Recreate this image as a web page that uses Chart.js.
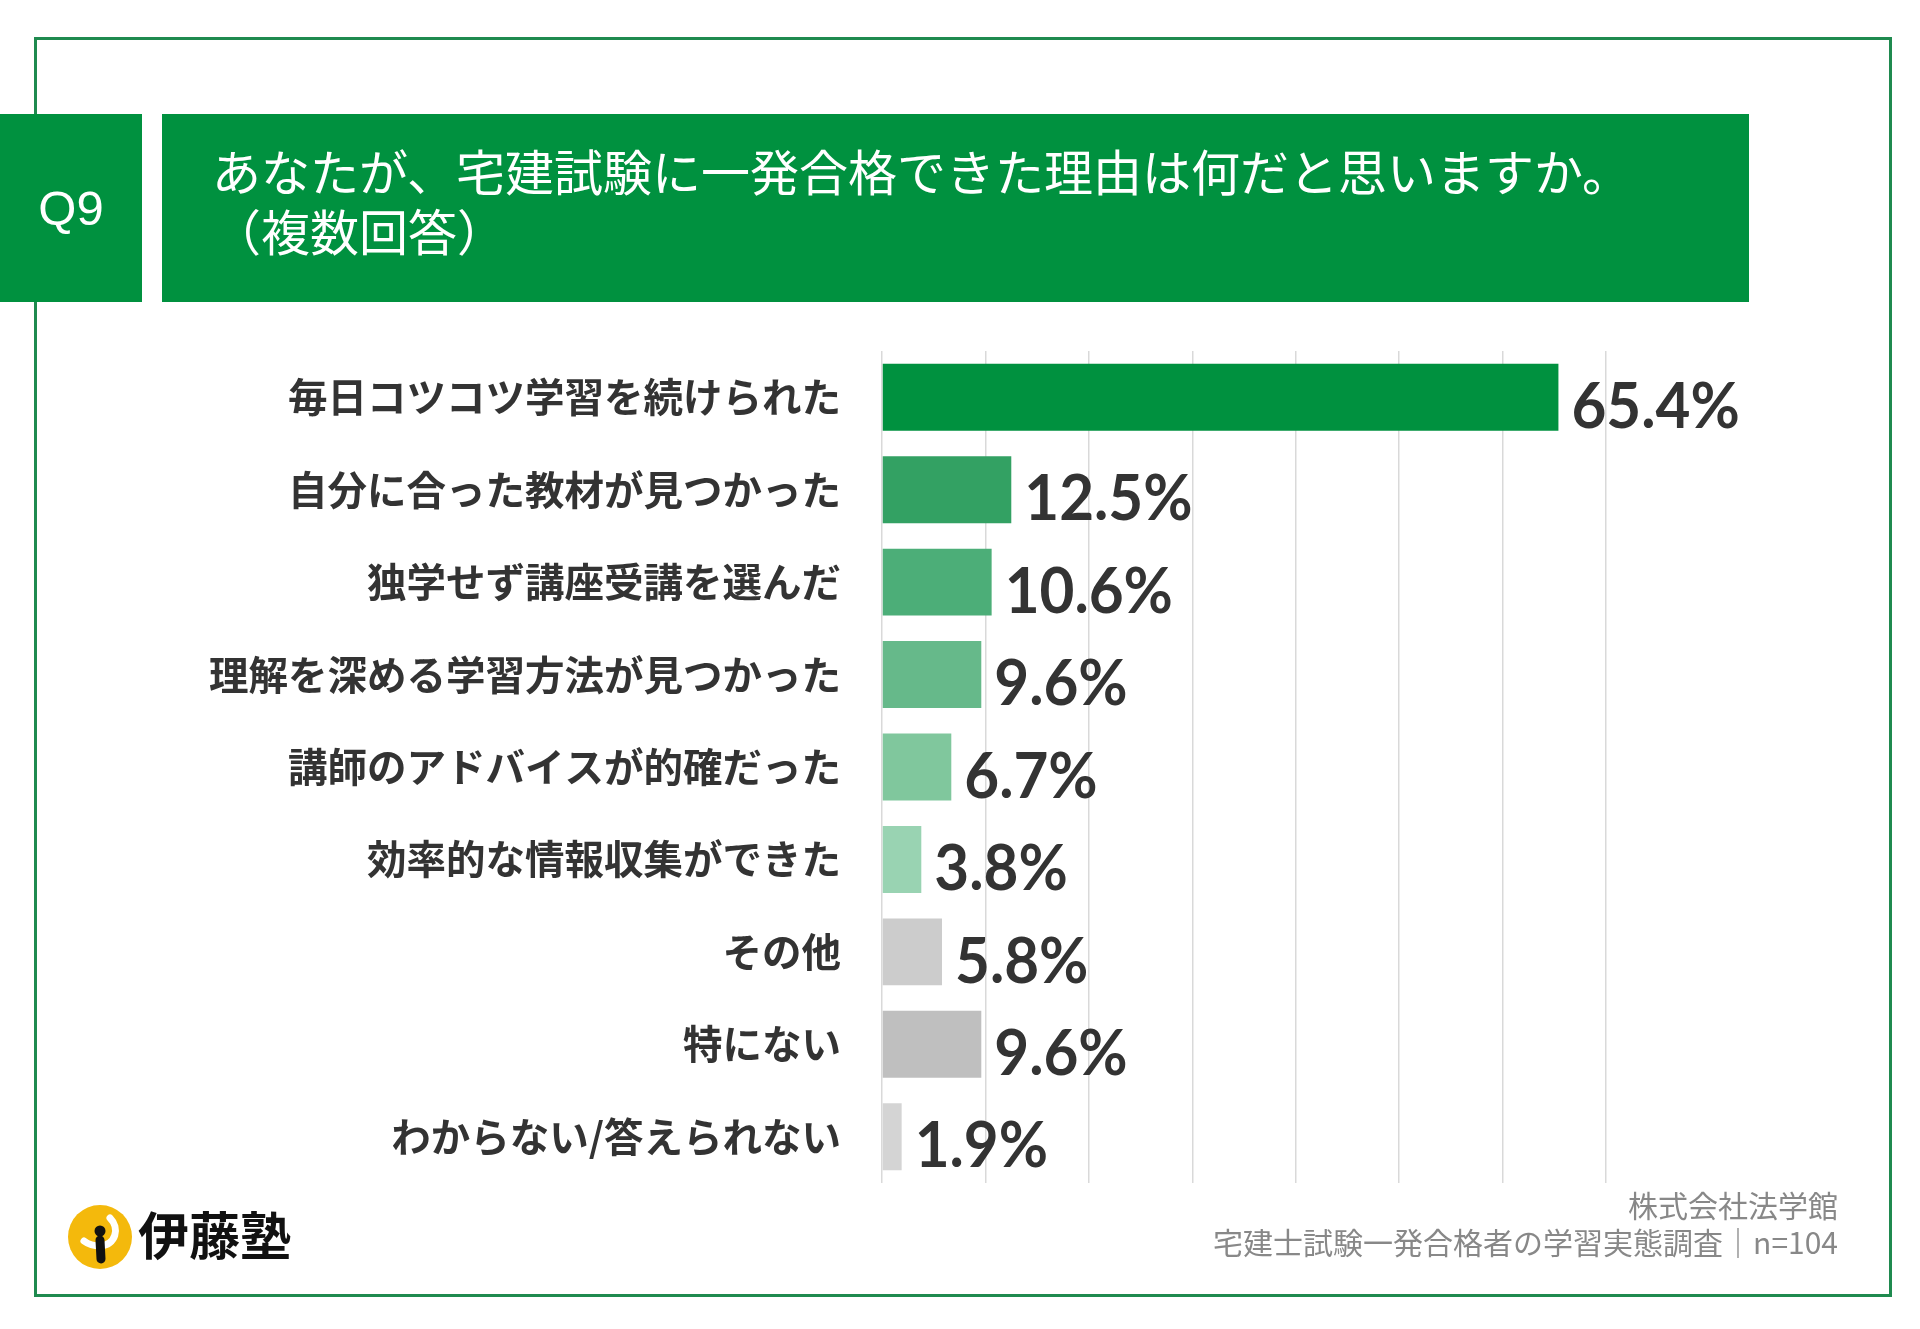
<!DOCTYPE html>
<html lang="ja">
<head>
<meta charset="utf-8">
<script src="https://cdn.jsdelivr.net/npm/chart.js@4/dist/chart.umd.min.js"></script>
<style>
  html, body { margin: 0; padding: 0; background: #fff; }
  #page { position: relative; width: 1920px; height: 1329px; overflow: hidden; font-family: "Noto Sans CJK JP", sans-serif; }
  #frame { position: absolute; left: 34px; top: 37px; width: 1852px; height: 1254px; border: 3px solid #1f8a4f; }
  #qbox { position: absolute; left: 0; top: 114px; width: 142px; height: 188px; background: #00913f;
          color: #fff; font: 49px "Liberation Sans", Arial, sans-serif; display: flex; align-items: center; justify-content: center; }
  #tbox { position: absolute; left: 162px; top: 114px; width: 1587px; height: 188px; background: #00913f; }
  #tbox div { position: absolute; left: 50px; color: #fff; font-size: 49px; line-height: 1; white-space: nowrap; }
  #chartWrap { position: absolute; left: 0; top: 0; width: 1920px; height: 1329px; }
  #logo { position: absolute; left: 66px; top: 1203px; width: 68px; height: 68px; }
  #logoText { position: absolute; left: 138px; top: 1208px; font-size: 51px; font-weight: 700; color: #111; line-height: 1; }
  #source { position: absolute; right: 82px; top: 1186px; text-align: right; color: #888; font-size: 30px; line-height: 37px; }
</style>
</head>
<body>
<div id="page">
  <div id="chartWrap"><canvas id="chart"></canvas></div>
  <div id="frame"></div>
  <div id="qbox">Q9</div>
  <div id="tbox">
    <div style="top:31px">あなたが、宅建試験に一発合格できた理由は何だと思いますか。</div>
    <div style="top:91px">（複数回答）</div>
  </div>
  <svg id="logo" viewBox="0 0 68 68">
    <circle cx="34" cy="34" r="32" fill="#f4b90c"/>
    <path d="M44 15 C54 25 50 42 34 43 C28 43 22 41 18 38" fill="none" stroke="#fff" stroke-width="7" stroke-linecap="round"/>
    <circle cx="34" cy="28" r="5.5" fill="#111"/>
    <line x1="34" y1="37" x2="35" y2="56" stroke="#111" stroke-width="9" stroke-linecap="round"/>
  </svg>
  <div id="logoText">伊藤塾</div>
  <div id="source">株式会社法学館<br>宅建士試験一発合格者の学習実態調査｜n=104</div>
</div>
<script>
const categories = [
  '毎日コツコツ学習を続けられた',
  '自分に合った教材が見つかった',
  '独学せず講座受講を選んだ',
  '理解を深める学習方法が見つかった',
  '講師のアドバイスが的確だった',
  '効率的な情報収集ができた',
  'その他',
  '特にない',
  'わからない/答えられない'
];
const percents = [65.4, 12.5, 10.6, 9.6, 6.7, 3.8, 5.8, 9.6, 1.9];
const barColors = ['#00913f', '#33a163', '#4cae78', '#66b98a', '#80c79d', '#99d3b2', '#cccccc', '#bfbfbf', '#d4d4d4'];
const xTicks = [0, 10, 20, 30, 40, 50, 60, 70];

// 値ラベル
const valueLabels = {
  id: 'valueLabels',
  afterDatasetsDraw(chart) {
    const ctx = chart.ctx;
    const meta = chart.getDatasetMeta(0);
    meta.data.forEach((bar, i) => {
      ctx.save();
      ctx.font = 'bold 64px Lato, sans-serif';
      ctx.fillStyle = '#333333';
      ctx.textAlign = 'left';
      ctx.textBaseline = 'middle';
      ctx.translate(bar.x + 13, bar.y + 10);
      ctx.scale(0.94, 1);
      ctx.fillText(percents[i].toFixed(1) + '%', 0, 0);
      ctx.restore();
    });
  }
};

const ctx = document.getElementById('chart').getContext('2d');
new Chart(ctx, {
  type: 'bar',
  data: {
    labels: categories,
    datasets: [{
      data: percents,
      backgroundColor: barColors,
      borderWidth: 0,
      categoryPercentage: 1,
      barPercentage: 0.724
    }]
  },
  options: {
    indexAxis: 'y',
    responsive: true,
    maintainAspectRatio: false,
    animation: false,
    layout: { padding: { top: 351, bottom: 146, right: 314, left: 0 } },
    plugins: { legend: { display: false }, tooltip: { enabled: false } },
    scales: {
      x: {
        min: 0,
        max: 70,
        afterBuildTicks: (s) => { s.ticks = xTicks.map(v => ({ value: v })); },
        ticks: { display: false },
        grid: { color: '#d9d9d9', lineWidth: 1.5, drawTicks: false },
        border: { display: false },
        afterFit: (s) => { s.height = 0; }
      },
      y: {
        ticks: {
          color: '#333333',
          padding: 41,
          font: { family: '"Noto Sans CJK JP", sans-serif', size: 39.5, weight: 'bold' }
        },
        grid: { display: false, drawTicks: false },
        border: { display: false },
        afterFit: (s) => { s.width = 882; }
      }
    }
  },
  plugins: [valueLabels]
});
</script>
</body>
</html>
